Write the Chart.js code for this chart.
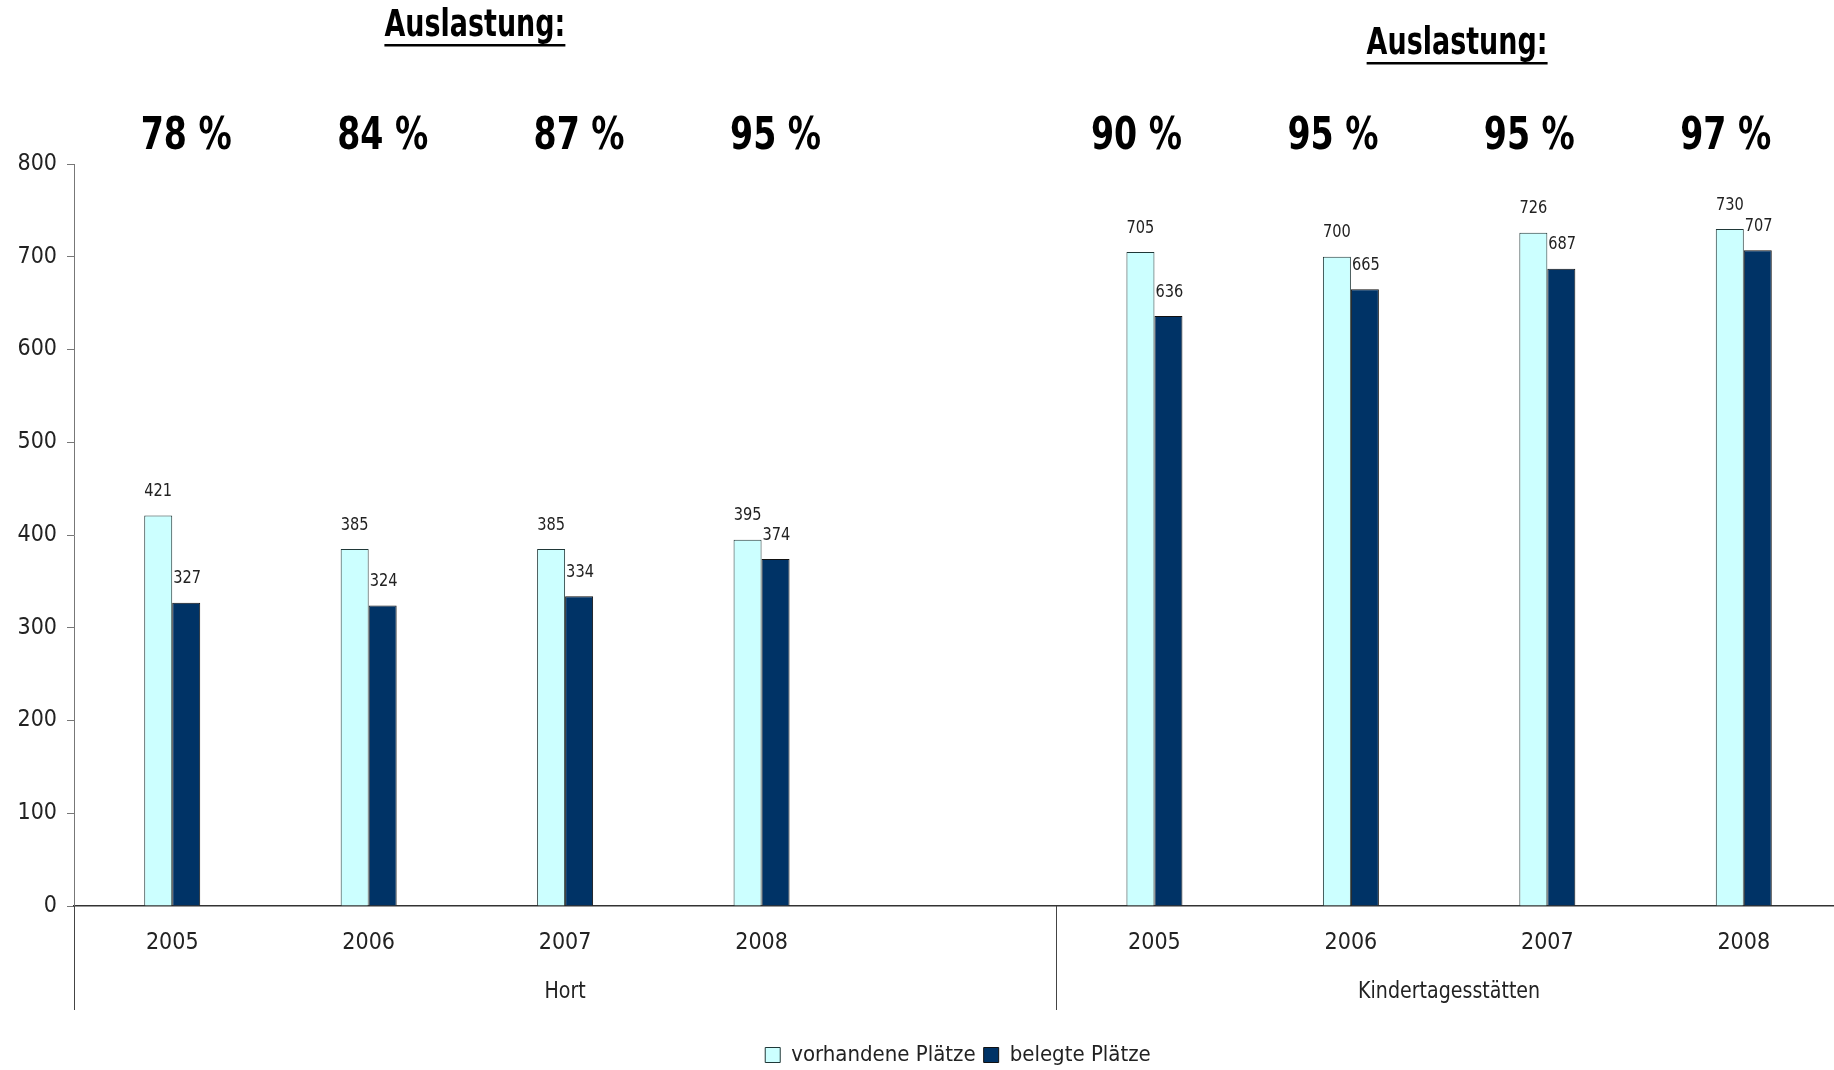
<!DOCTYPE html>
<html>
<head>
<meta charset="utf-8">
<script src="https://cdn.jsdelivr.net/npm/chart.js@4.4.0/dist/chart.umd.min.js"></script>
<style>
  html, body { margin: 0; padding: 0; background: #fff; overflow: hidden; }
  #wrap { width: 1834px; height: 1070px; overflow: hidden; }
</style>
</head>
<body>
<!-- the original plot runs a few pixels past the right edge, so the canvas is a bit wider than the page -->
<div id="wrap"><canvas id="chart" width="1842" height="1070"></canvas></div>
<script>
// Chart data
const categories = ['2005', '2006', '2007', '2008', '', '2005', '2006', '2007', '2008'];
const vorhandenePlaetze = [421, 385, 385, 395, null, 705, 700, 726, 730];
const belegtePlaetze = [327, 324, 334, 374, null, 636, 665, 687, 707];
const auslastung = ['78 %', '84 %', '87 %', '95 %', null, '90 %', '95 %', '95 %', '97 %'];
const groupLabels = ['Hort', 'Kindertagesstätten'];
const groupFirst = [0, 5];
const groupLast = [3, 8];
const yTicks = [0, 100, 200, 300, 400, 500, 600, 700, 800];

const FONT = '"DejaVu Sans Condensed", "Liberation Sans Narrow", sans-serif';

// draw text squeezed horizontally (the original uses a narrow face)
function narrowText(ctx, txt, x, y, squeeze) {
  ctx.save();
  ctx.translate(x, y);
  ctx.scale(squeeze, 1);
  ctx.fillText(txt, 0, 0);
  ctx.restore();
}

// Value labels, percentages, headers and group lines
const annotations = {
  id: 'annotations',
  afterDatasetsDraw(chart) {
    const ctx = chart.ctx;
    const x = chart.scales.x;
    const area = chart.chartArea;
    ctx.save();

    // bar values
    ctx.font = '18px ' + FONT;
    ctx.fillStyle = '#222';
    ctx.textBaseline = 'middle';
    chart.getDatasetMeta(0).data.forEach((bar, i) => {
      if (vorhandenePlaetze[i] == null) return;
      ctx.textAlign = 'center';
      narrowText(ctx, String(vorhandenePlaetze[i]), bar.x, bar.y - 24, 0.9);
    });
    chart.getDatasetMeta(1).data.forEach((bar, i) => {
      if (belegtePlaetze[i] == null) return;
      ctx.textAlign = 'left';
      narrowText(ctx, String(belegtePlaetze[i]), bar.x - bar.width / 2 + 1, bar.y - 24, 0.9);
    });

    // percentages
    ctx.font = 'bold 45px ' + FONT;
    ctx.fillStyle = '#000';
    ctx.textAlign = 'center';
    auslastung.forEach((txt, i) => {
      if (!txt) return;
      const dx = i < 4 ? 14 : -18;
      narrowText(ctx, txt, x.getPixelForValue(i) + dx, 137, 0.82);
    });

    // headers
    ctx.font = 'bold 37px ' + FONT;
    const headerY = [26, 44];
    groupFirst.forEach((f, g) => {
      const cx = (x.getPixelForValue(f) + x.getPixelForValue(groupLast[g])) / 2 + 8;
      const w = ctx.measureText('Auslastung:').width * 0.81;
      narrowText(ctx, 'Auslastung:', cx, headerY[g], 0.81);
      ctx.fillRect(cx - w / 2, headerY[g] + 18, w, 2.5);
    });

    // group labels and separators below axis
    const half = (x.getPixelForValue(1) - x.getPixelForValue(0)) / 2;
    ctx.font = '23px ' + FONT;
    ctx.fillStyle = '#222';
    ctx.strokeStyle = '#444';
    ctx.lineWidth = 1;
    const sepBottom = area.bottom + 104;
    groupFirst.forEach((f, g) => {
      const left = g === 0 ? area.left : x.getPixelForValue(f) - half;
      const right = g === groupFirst.length - 1 ? area.right : x.getPixelForValue(groupFirst[g + 1]) - half;
      narrowText(ctx, groupLabels[g], (left + right) / 2, area.bottom + 86, 0.92);
      ctx.beginPath();
      ctx.moveTo(Math.round(left) + 0.5, area.bottom);
      ctx.lineTo(Math.round(left) + 0.5, sepBottom);
      ctx.stroke();
    });
    ctx.restore();
  }
};

new Chart(document.getElementById('chart'), {
  type: 'bar',
  data: {
    labels: categories,
    datasets: [
      {
        label: 'vorhandene Plätze',
        data: vorhandenePlaetze,
        backgroundColor: '#CCFFFF',
        borderColor: '#203838',
        borderWidth: 1,
        categoryPercentage: 0.285,
        barPercentage: 1
      },
      {
        label: 'belegte Plätze',
        data: belegtePlaetze,
        backgroundColor: '#003366',
        borderColor: '#111',
        borderWidth: 1,
        categoryPercentage: 0.285,
        barPercentage: 1
      }
    ]
  },
  options: {
    responsive: false,
    animation: false,
    layout: { padding: { top: 164, right: 0, left: 0, bottom: -6 } },
    plugins: {
      tooltip: { enabled: false },
      legend: {
        position: 'bottom',
        fullSize: false,
        labels: {
          font: { family: FONT, size: 22 },
          color: '#222',
          boxWidth: 15,
          boxHeight: 15,
          padding: 8
        }
      }
    },
    scales: {
      x: {
        offset: true,
        grid: { display: false },
        border: { display: true, color: '#333', width: 1.5 },
        ticks: { font: { family: FONT, size: 23 }, color: '#222', padding: 15, maxRotation: 0, autoSkip: false },
        afterFit(scale) { scale.height = 130; }
      },
      y: {
        min: 0,
        max: 800,
        afterBuildTicks(scale) { scale.ticks = yTicks.map(v => ({ value: v })); },
        grid: { drawOnChartArea: false, drawTicks: true, tickLength: 7, color: '#777' },
        border: { display: true, color: '#777', width: 1 },
        ticks: { font: { family: FONT, size: 23 }, color: '#222', padding: 10 },
        afterFit(scale) { scale.width = 74; }
      }
    }
  },
  plugins: [annotations]
});
</script>
</body>
</html>
